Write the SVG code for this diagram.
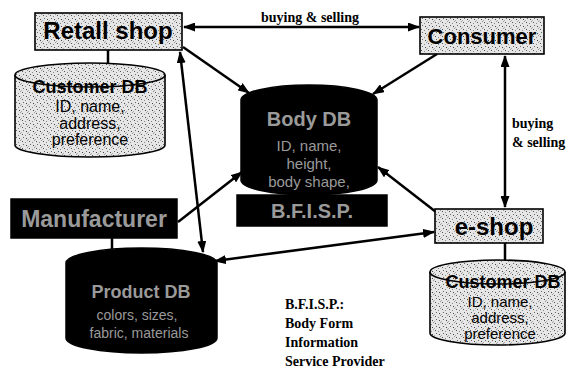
<svg xmlns="http://www.w3.org/2000/svg" width="574" height="371" viewBox="0 0 574 371">
<defs>
<pattern id="stip" width="7" height="7" patternUnits="userSpaceOnUse">
<rect width="7" height="7" fill="#e6e6e6"/>
<rect x="1" y="1" width="1" height="1" fill="#555"/>
<rect x="4" y="2" width="1" height="1" fill="#888"/>
<rect x="2" y="4" width="1" height="1" fill="#666"/>
<rect x="5" y="5" width="1" height="1" fill="#444"/>
<rect x="6" y="0" width="1" height="1" fill="#999"/>
<rect x="0" y="6" width="1" height="1" fill="#aaa"/>
</pattern>
<marker id="ah" viewBox="0 0 12 9" markerWidth="12" markerHeight="9" refX="11" refY="4.5" orient="auto-start-reverse" markerUnits="userSpaceOnUse">
<path d="M0,0 L12,4.5 L0,9 z" fill="#000"/>
</marker>
</defs>
<style>
.box{fill:url(#stip);stroke:#000;stroke-width:1.6}
.dark{fill:#000;stroke:#000;stroke-width:1.5}
.lt{font-family:"Liberation Sans",Arial,sans-serif;font-weight:bold;fill:#000;text-anchor:middle}
.lr{font-family:"Liberation Sans",Arial,sans-serif;fill:#000;text-anchor:middle}
.dt{font-family:"Liberation Sans",Arial,sans-serif;fill:#9a9a9a;text-anchor:middle}
.ser{font-family:"Liberation Serif","Times New Roman",serif;font-weight:bold;font-size:14px;fill:#000}
.con{stroke:#000;stroke-width:2.5;fill:none}
.arr{stroke:#000;stroke-width:2.5;fill:none;marker-end:url(#ah)}
.arr2{stroke:#000;stroke-width:2.5;fill:none;marker-start:url(#ah);marker-end:url(#ah)}
</style>
<rect width="574" height="371" fill="#fff"/>

<g id="connectors">
<line class="con" x1="108" y1="50" x2="108" y2="64"/>
<line class="con" x1="112" y1="238" x2="112" y2="249"/>
<line class="con" x1="505" y1="243" x2="505" y2="261"/>
<line class="arr2" x1="184" y1="27" x2="419" y2="27"/>
<line class="arr" x1="183" y1="47" x2="249" y2="93"/>
<line class="arr" x1="437" y1="54" x2="373" y2="94"/>
<line class="arr" x1="178" y1="222" x2="242" y2="172"/>
<line class="arr" x1="436" y1="212" x2="378" y2="167"/>
<line class="arr2" x1="180" y1="52" x2="203" y2="252"/>
<line class="arr2" x1="434" y1="232" x2="215" y2="261"/>
<line class="arr2" x1="505" y1="56" x2="505" y2="207"/>
<text class="ser" x="310" y="22" text-anchor="middle">buying &amp; selling</text>
<text class="ser" x="512" y="128">buying</text>
<text class="ser" x="512" y="147">&amp; selling</text>
</g>

<g id="retail-shop">
<rect class="box" x="35" y="13" width="147" height="37"/>
<text class="lt" x="108" y="39" font-size="24">Retall shop</text>
</g>

<g id="customer-db-left">
<path class="box" d="M15,75 A75,12 0 0 1 165,75 V145 A75,12 0 0 1 15,145 Z"/>
<path d="M15,75 A75,12 0 0 0 165,75" fill="none" stroke="#000" stroke-width="1.6"/>
<text class="lt" x="90" y="93" font-size="18">Customer DB</text>
<text class="lr" x="90" y="112" font-size="16">ID, name,</text>
<text class="lr" x="90" y="129" font-size="16">address,</text>
<text class="lr" x="90" y="145" font-size="16">preference</text>
</g>

<g id="consumer">
<rect class="box" x="420" y="17" width="124" height="37"/>
<text class="lt" x="482" y="44" font-size="22">Consumer</text>
</g>

<g id="body-db">
<path class="dark" d="M241,100 A68,15 0 0 1 377,100 V180 A68,15 0 0 1 241,180 Z"/>
<text class="dt" x="309" y="126" font-size="20" font-weight="bold">Body DB</text>
<text class="dt" x="309" y="151" font-size="15">ID, name,</text>
<text class="dt" x="309" y="169" font-size="15">height,</text>
<text class="dt" x="309" y="187" font-size="15">body shape,</text>
</g>

<g id="bfisp">
<rect class="dark" x="237" y="195" width="150" height="31"/>
<text class="dt" x="312" y="218" font-size="20" font-weight="bold">B.F.I.S.P.</text>
</g>

<g id="manufacturer">
<rect class="dark" x="11" y="199" width="166" height="39"/>
<text class="dt" x="94" y="227" font-size="23" font-weight="bold">Manufacturer</text>
</g>

<g id="product-db">
<path class="dark" d="M66,263 A75.5,15 0 0 1 217,263 V338 A75.5,15 0 0 1 66,338 Z"/>
<text class="dt" x="141" y="298" font-size="18" font-weight="bold">Product DB</text>
<text class="dt" x="137" y="320" font-size="14">colors, sizes,</text>
<text class="dt" x="139" y="338" font-size="14">fabric, materials</text>
</g>

<g id="e-shop">
<rect class="box" x="435" y="209" width="108" height="34"/>
<text class="lt" x="494" y="235" font-size="24">e-shop</text>
</g>

<g id="customer-db-right">
<path class="box" d="M430,272 A67.5,12 0 0 1 565,272 V333 A67.5,12 0 0 1 430,333 Z"/>
<path d="M430,272 A67.5,12 0 0 0 565,272" fill="none" stroke="#000" stroke-width="1.6"/>
<text class="lt" x="503" y="288" font-size="18">Customer DB</text>
<text class="lr" x="500" y="307" font-size="15">ID, name,</text>
<text class="lr" x="500" y="323" font-size="15">address,</text>
<text class="lr" x="500" y="339" font-size="15">preference</text>
</g>

<g id="legend">
<text class="ser" x="285" y="309">B.F.I.S.P.:</text>
<text class="ser" x="285" y="328">Body Form</text>
<text class="ser" x="285" y="347">Information</text>
<text class="ser" x="285" y="366">Service Provider</text>
</g>
</svg>
